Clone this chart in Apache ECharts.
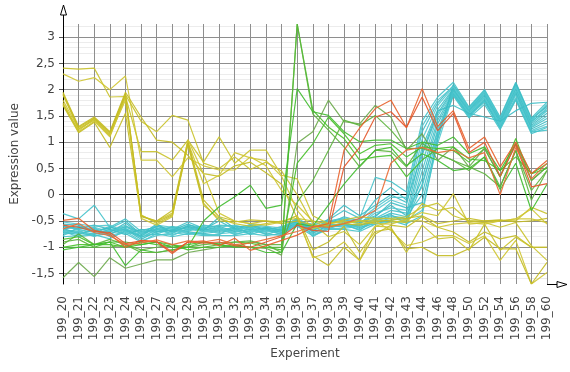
<!DOCTYPE html>
<html>
<head>
<meta charset="utf-8">
<script src="https://cdn.jsdelivr.net/npm/echarts@6/dist/echarts.min.js"></script>
<style>
  html, body { margin: 0; padding: 0; background: #fff; }
  #chart { width: 570px; height: 372px; }
</style>
</head>
<body>
<div id="chart"></div>
<script>
// experiments on the x axis
var categories = ['199_20', '199_21', '199_22', '199_23', '199_24', '199_26', '199_27', '199_28',
  '199_29', '199_30', '199_31', '199_32', '199_33', '199_34', '199_35', '199_36', '199_37', '199_38',
  '199_39', '199_40', '199_41', '199_42', '199_43', '199_44', '199_46', '199_48', '199_50', '199_52',
  '199_54', '199_56', '199_58', '199_60'];

// cyan cluster (low, then up after 199_43)
var cyanLines = [
  [-0.36,-0.46,-0.20,-0.62,-0.46,-0.70,-0.60,-0.66,-0.52,-0.64,-0.58,-0.60,-0.62,-0.66,-0.70,-0.50,-0.58,-0.48,-0.30,-0.45,0.33,0.25,0.05,1.40,1.86,2.14,1.67,2.00,1.48,2.14,1.46,1.76],
  [-0.56,-0.58,-0.70,-0.64,-0.50,-0.75,-0.64,-0.70,-0.60,-0.66,-0.50,-0.66,-0.70,-0.64,-0.72,-0.52,-0.62,-0.55,-0.42,-0.50,-0.10,0.14,-0.10,1.20,1.75,2.08,1.62,1.95,1.44,2.08,1.42,1.70],
  [-0.62,-0.65,-0.62,-0.70,-0.58,-0.80,-0.58,-0.62,-0.66,-0.70,-0.62,-0.58,-0.66,-0.72,-0.66,-0.48,-0.66,-0.52,-0.50,-0.55,-0.30,-0.10,-0.20,1.05,1.70,2.05,1.60,1.92,1.40,2.05,1.38,1.65],
  [-0.68,-0.70,-0.75,-0.66,-0.62,-0.72,-0.66,-0.74,-0.58,-0.62,-0.66,-0.70,-0.60,-0.68,-0.74,-0.55,-0.70,-0.60,-0.56,-0.60,-0.45,-0.30,-0.35,0.90,1.62,2.02,1.58,1.90,1.38,2.02,1.35,1.60],
  [-0.75,-0.72,-0.78,-0.74,-0.66,-0.85,-0.70,-0.68,-0.72,-0.74,-0.70,-0.64,-0.72,-0.62,-0.68,-0.58,-0.74,-0.58,-0.62,-0.58,-0.50,-0.40,-0.45,0.75,1.55,2.00,1.55,1.88,1.35,2.00,1.32,1.55],
  [-0.78,-0.62,-0.66,-0.78,-0.70,-0.68,-0.62,-0.78,-0.64,-0.66,-0.74,-0.72,-0.64,-0.70,-0.64,-0.45,-0.80,-0.62,-0.58,-0.66,-0.52,-0.45,-0.50,0.60,1.50,1.98,1.52,1.85,1.33,1.98,1.30,1.50],
  [-0.72,-0.66,-0.72,-0.60,-0.74,-0.90,-0.74,-0.66,-0.70,-0.58,-0.62,-0.76,-0.68,-0.74,-0.78,-0.52,-0.56,-0.65,-0.54,-0.62,-0.55,-0.49,-0.58,0.45,1.42,1.96,1.50,1.82,1.30,1.95,1.28,1.45],
  [-0.64,-0.74,-0.68,-0.72,-0.54,-0.76,-0.56,-0.72,-0.60,-0.70,-0.68,-0.62,-0.58,-0.66,-0.62,-0.50,-0.64,-0.50,-0.46,-0.52,-0.40,-0.20,-0.40,0.30,1.35,1.93,1.48,1.80,1.28,1.92,1.25,1.40],
  [-0.58,-0.68,-0.80,-0.68,-0.66,-0.72,-0.68,-0.64,-0.74,-0.72,-0.64,-0.68,-0.74,-0.60,-0.70,-0.55,-0.68,-0.56,-0.60,-0.56,-0.35,-0.25,-0.30,0.15,1.25,1.95,1.55,1.85,1.34,1.90,1.22,1.35],
  [-0.70,-0.76,-0.64,-0.76,-0.60,-0.70,-0.72,-0.60,-0.66,-0.64,-0.72,-0.66,-0.62,-0.76,-0.66,-0.48,-0.72,-0.62,-0.52,-0.64,-0.48,-0.35,-0.42,0.00,1.15,2.00,1.60,1.95,1.42,2.10,1.40,1.62],
  [-0.66,-0.60,-0.70,-0.62,-0.68,-0.78,-0.60,-0.70,-0.62,-0.68,-0.60,-0.70,-0.66,-0.64,-0.72,-0.50,-0.60,-0.54,-0.48,-0.54,-0.42,-0.15,-0.25,-0.15,1.05,2.10,1.65,1.98,1.45,2.12,1.44,1.68],
  [-0.74,-0.70,-0.62,-0.80,-0.72,-0.74,-0.76,-0.76,-0.68,-0.60,-0.66,-0.74,-0.70,-0.70,-0.60,-0.54,-0.76,-0.64,-0.64,-0.60,-0.50,-0.42,-0.48,-0.30,0.98,1.90,1.50,1.76,1.30,1.85,1.20,1.30],
  [-0.80,-0.78,-0.74,-0.70,-0.64,-0.82,-0.66,-0.62,-0.70,-0.76,-0.76,-0.60,-0.76,-0.66,-0.76,-0.56,-0.66,-0.58,-0.56,-0.68,-0.46,-0.38,-0.55,-0.40,1.10,1.92,1.52,1.78,1.27,1.82,1.19,1.23],
  [-0.60,-0.64,-0.58,-0.66,-0.76,-0.66,-0.70,-0.68,-0.56,-0.68,-0.43,-0.64,-0.60,-0.62,-0.68,-0.46,-0.70,-0.46,-0.20,-0.40,-0.20,0.00,-0.15,0.80,1.60,1.70,1.55,1.48,1.40,1.60,1.74,1.76],
  [-0.52,-0.56,-0.60,-0.58,-0.70,-0.88,-0.78,-0.72,-0.76,-0.70,-0.64,-0.72,-0.56,-0.60,-0.64,-0.44,-0.64,-0.50,-0.44,-0.48,-0.25,-0.05,-0.05,1.30,1.80,2.06,1.64,1.96,1.46,2.06,1.42,1.72],
  [-0.70,-0.80,-0.76,-0.84,-0.68,-0.80,-0.74,-0.80,-0.74,-0.78,-0.78,-0.78,-0.74,-0.78,-0.74,-0.60,-0.78,-0.66,-0.66,-0.70,-0.56,-0.52,-0.52,0.20,1.20,1.88,1.46,1.72,1.24,1.80,1.16,1.28]
];

// yellow cluster (high at start, low at the end)
var yellowLines = [
  [2.41,2.39,2.41,1.86,1.87,0.82,0.82,0.66,1.04,0.62,1.10,0.60,0.85,0.85,0.37,0.30,-0.40,-0.55,-0.48,-0.42,-0.45,-0.45,-0.42,-0.24,-0.16,-0.40,-0.50,-0.50,-0.49,-0.50,-0.24,-0.36],
  [2.30,2.16,2.23,2.00,2.26,0.66,0.66,0.34,0.70,0.55,0.47,0.47,0.72,0.55,0.08,-0.20,-0.50,-0.62,-0.55,-0.50,-0.55,-0.56,-0.47,-0.34,-0.40,0.02,-0.56,-0.53,-0.50,-0.46,-0.27,-0.56],
  [1.95,1.30,1.48,1.20,1.95,1.48,1.04,1.00,0.75,0.40,0.35,0.55,0.62,0.42,0.20,-0.45,-1.16,-1.35,-1.00,-1.25,-0.75,-0.58,-0.62,-0.42,-0.62,-0.71,-0.90,-0.71,-0.84,-0.78,-1.00,-1.00],
  [1.90,1.25,1.42,1.12,1.90,1.40,1.20,1.51,1.42,0.60,0.50,0.72,0.48,0.62,0.45,0.00,-0.55,-0.80,-0.70,-0.95,-0.60,-0.62,-1.10,-0.58,-0.84,-0.81,-1.06,-0.56,-1.06,-0.81,-1.00,-1.00],
  [1.75,1.20,1.40,1.10,1.85,-0.40,-0.50,-0.35,1.00,0.21,0.37,0.80,0.70,0.65,0.35,-0.30,-0.65,-0.55,-0.50,-0.55,-0.50,-0.68,-0.97,-0.90,-0.78,-0.78,-0.93,-0.78,-1.25,-0.87,-1.70,-1.48],
  [1.70,1.18,1.38,0.90,1.55,-0.42,-0.50,-0.30,1.02,-0.10,-0.42,-0.50,-0.55,-0.50,-0.52,-0.40,-1.05,-0.90,-0.60,-1.10,-0.70,-0.65,-1.03,-1.00,-1.16,-1.16,-1.03,-0.81,-1.03,-1.03,-1.70,-1.29],
  [1.72,1.22,1.45,1.15,1.88,-0.38,-0.55,-0.40,0.95,-0.20,-0.45,-0.55,-0.60,-0.55,-0.50,-0.45,-0.50,-0.55,-0.52,-0.50,-0.48,-0.50,-0.53,-0.17,-0.30,-0.24,-0.50,-0.53,-0.62,-0.53,-0.97,-1.25],
  [1.80,1.25,1.44,1.14,1.80,-0.45,-0.58,-0.42,1.05,0.40,-0.35,-0.50,-0.55,-0.58,-0.52,-0.40,-1.20,-1.10,-0.90,-1.25,-0.60,-0.52,-0.50,-0.50,-0.62,-0.56,-0.53,-0.56,-0.50,-0.46,-0.46,-0.53],
  [1.92,1.28,1.46,1.18,1.92,-0.40,-0.52,-0.38,0.98,-0.16,-0.50,-0.52,-0.48,-0.50,-0.55,-0.50,-0.58,-0.60,-0.55,-0.58,-0.52,-0.48,-0.45,-0.40,-0.55,-0.50,-0.45,-0.50,-0.48,-0.52,-0.50,-0.45]
];

// green cluster (spike at 199_36)
var greenLines = [
  [-1.00,-0.95,-0.95,-0.95,-1.00,-0.90,-0.95,-1.00,-0.95,-0.90,-0.95,-0.90,-0.92,-1.00,-1.05,3.25,1.61,1.29,1.07,0.66,0.72,0.75,0.34,0.66,0.88,0.84,0.62,0.88,0.34,1.07,0.27,0.53],
  [-0.95,-0.75,-0.95,-0.85,-0.95,-1.05,-1.00,-0.95,-1.00,-1.00,-0.95,-1.00,-0.90,-0.95,-1.10,3.25,1.54,1.23,0.91,0.53,0.85,0.82,0.53,0.98,0.78,0.65,0.46,0.72,0.15,0.84,0.08,0.46],
  [-1.05,-1.00,-1.00,-0.90,-1.35,-1.05,-1.10,-1.05,-1.00,-0.50,-0.23,-0.04,0.18,-0.26,-0.20,2.02,1.58,1.51,1.20,1.01,1.04,1.04,0.88,1.00,0.94,1.10,0.78,0.91,0.46,0.97,0.40,0.59],
  [-1.58,-1.29,-1.56,-1.20,-1.40,-1.32,-1.24,-1.24,-1.10,-1.05,-1.00,-0.98,-1.00,-1.02,-1.15,0.98,1.20,1.80,1.39,1.35,1.70,1.48,0.85,1.16,0.65,0.91,0.53,0.88,0.34,0.97,0.27,0.53],
  [-0.85,-0.80,-0.95,-0.90,-1.00,-0.95,-0.90,-0.95,-1.05,-1.00,-1.00,-0.95,-1.00,-1.00,-1.00,0.60,0.97,1.48,1.16,0.78,0.94,0.97,0.72,0.91,0.88,0.91,0.68,0.65,0.46,0.72,0.40,0.50],
  [-0.90,-0.85,-1.00,-1.00,-0.95,-1.10,-1.10,-1.05,-1.00,-0.95,-0.92,-0.90,-0.88,-0.95,-0.95,-0.14,0.27,0.84,1.42,1.32,1.51,1.23,0.88,0.88,0.78,0.65,0.53,0.40,0.15,0.84,-0.10,0.46],
  [-1.00,-1.00,-0.95,-0.90,-0.90,-0.95,-0.90,-1.00,-1.00,-0.90,-0.95,-1.00,-1.00,-1.10,-1.10,-0.55,-0.60,-0.20,0.20,0.55,0.85,0.90,0.55,0.78,0.65,0.46,0.50,0.72,0.10,0.60,-0.30,0.20]
];

// orange cluster
var orangeLines = [
  [-0.49,-0.45,-0.68,-0.75,-1.00,-0.87,-0.89,-1.09,-0.90,-0.88,-0.97,-0.83,-1.06,-0.97,-0.87,-0.77,-0.62,-0.55,0.85,1.27,1.64,1.80,1.28,2.02,1.30,1.60,0.88,1.10,0.53,1.00,0.40,0.65],
  [-0.58,-0.62,-0.70,-0.72,-0.93,-0.88,-0.90,-1.12,-0.90,-0.92,-0.90,-0.97,-1.00,-0.90,-0.80,-0.58,-0.68,-0.70,0.53,0.90,1.48,1.58,1.28,1.86,1.22,1.55,0.80,1.00,0.35,0.95,0.15,0.21],
  [-0.65,-0.55,-0.72,-0.78,-0.95,-0.92,-0.86,-0.95,-0.88,-0.90,-0.85,-0.95,-0.92,-0.85,-0.78,-0.70,-0.60,-0.62,-0.55,-0.45,-0.30,0.60,0.85,0.90,0.80,0.85,0.70,0.80,0.00,0.90,0.30,0.60]
];

var yMin = -1.7;
var yMax = 3.25;
var font = 'DejaVu Sans';

function makeSeries(lines, colors) {
  return lines.map(function (d, i) {
    return {
      type: 'line',
      data: d,
      yAxisIndex: 1,
      symbol: 'none',
      silent: true,
      lineStyle: { width: 1.2, color: colors[i % colors.length], opacity: 0.9 },
      emphasis: { disabled: true }
    };
  });
}

var series = [].concat(
  makeSeries(cyanLines, ['#44c2ca', '#3dbcc5', '#52c8cf']),
  makeSeries(yellowLines, ['#c9c22a', '#cfc532', '#c4bb22']),
  makeSeries(greenLines, ['#46c028', '#5cb43c', '#3fbb2e', '#6aa84a']),
  makeSeries(orangeLines, ['#e8602a', '#e4552a', '#ea6a34'])
);

var light = '#ececec';
var chart = echarts.init(document.getElementById('chart'));
chart.setOption({
  animation: false,
  backgroundColor: '#fff',
  grid: { left: 63, right: 23, top: 24, bottom: 88, containLabel: false, outerBoundsMode: 'none' },
  xAxis: {
    type: 'category',
    data: categories,
    boundaryGap: false,
    name: 'Experiment',
    nameLocation: 'middle',
    nameGap: 64,
    nameTextStyle: { fontFamily: font, fontSize: 12, color: '#444' },
    axisLine: { lineStyle: { color: '#000', width: 1 } },
    axisTick: { show: true, interval: 0, length: 4, lineStyle: { color: '#555' } },
    axisLabel: { interval: 0, rotate: 90, margin: 12, fontFamily: font, fontSize: 12, color: '#444' },
    splitLine: { show: true, interval: 0, lineStyle: { color: '#8e8e8e', width: 1 } }
  },
  yAxis: [{
    // minor grid, every 0.1
    type: 'value',
    position: 'left',
    min: yMin,
    max: yMax,
    interval: 0.1,
    axisLine: { show: false },
    axisTick: { show: false },
    axisLabel: { show: false },
    splitLine: {
      show: true,
      showMinLine: false,
      showMaxLine: false,
      lineStyle: { color: [light, light, 'rgba(0,0,0,0)', light, light], width: 1 }
    }
  }, {
    type: 'value',
    position: 'left',
    min: yMin,
    max: yMax,
    splitNumber: 10,
    name: 'Expression value',
    nameLocation: 'middle',
    nameGap: 41,
    nameTextStyle: { fontFamily: font, fontSize: 12, color: '#444' },
    axisLine: { show: true, lineStyle: { color: '#000', width: 1 } },
    axisTick: { show: true, length: 4, lineStyle: { color: '#555' } },
    axisLabel: {
      margin: 8,
      fontFamily: font,
      fontSize: 12,
      color: '#444',
      showMinLabel: false,
      showMaxLabel: false,
      formatter: function (v) { return String(v).replace('.', ','); }
    },
    splitLine: {
      show: true,
      showMinLine: false,
      showMaxLine: false,
      lineStyle: { color: '#8e8e8e', width: 1 }
    }
  }],
  graphic: [
    { type: 'line', shape: { x1: 63.5, y1: 24, x2: 63.5, y2: 9 }, style: { stroke: '#000', lineWidth: 1 }, z: 100 },
    { type: 'polygon', shape: { points: [[60.5, 15], [63.5, 5], [66.5, 15]] }, style: { fill: '#fff', stroke: '#000', lineWidth: 1 }, z: 100 },
    { type: 'line', shape: { x1: 547, y1: 284.5, x2: 560, y2: 284.5 }, style: { stroke: '#000', lineWidth: 1 }, z: 100 },
    { type: 'polygon', shape: { points: [[557, 281.5], [567, 284.5], [557, 287.5]] }, style: { fill: '#fff', stroke: '#000', lineWidth: 1 }, z: 100 }
  ],
  series: series
});
</script>
</body>
</html>
